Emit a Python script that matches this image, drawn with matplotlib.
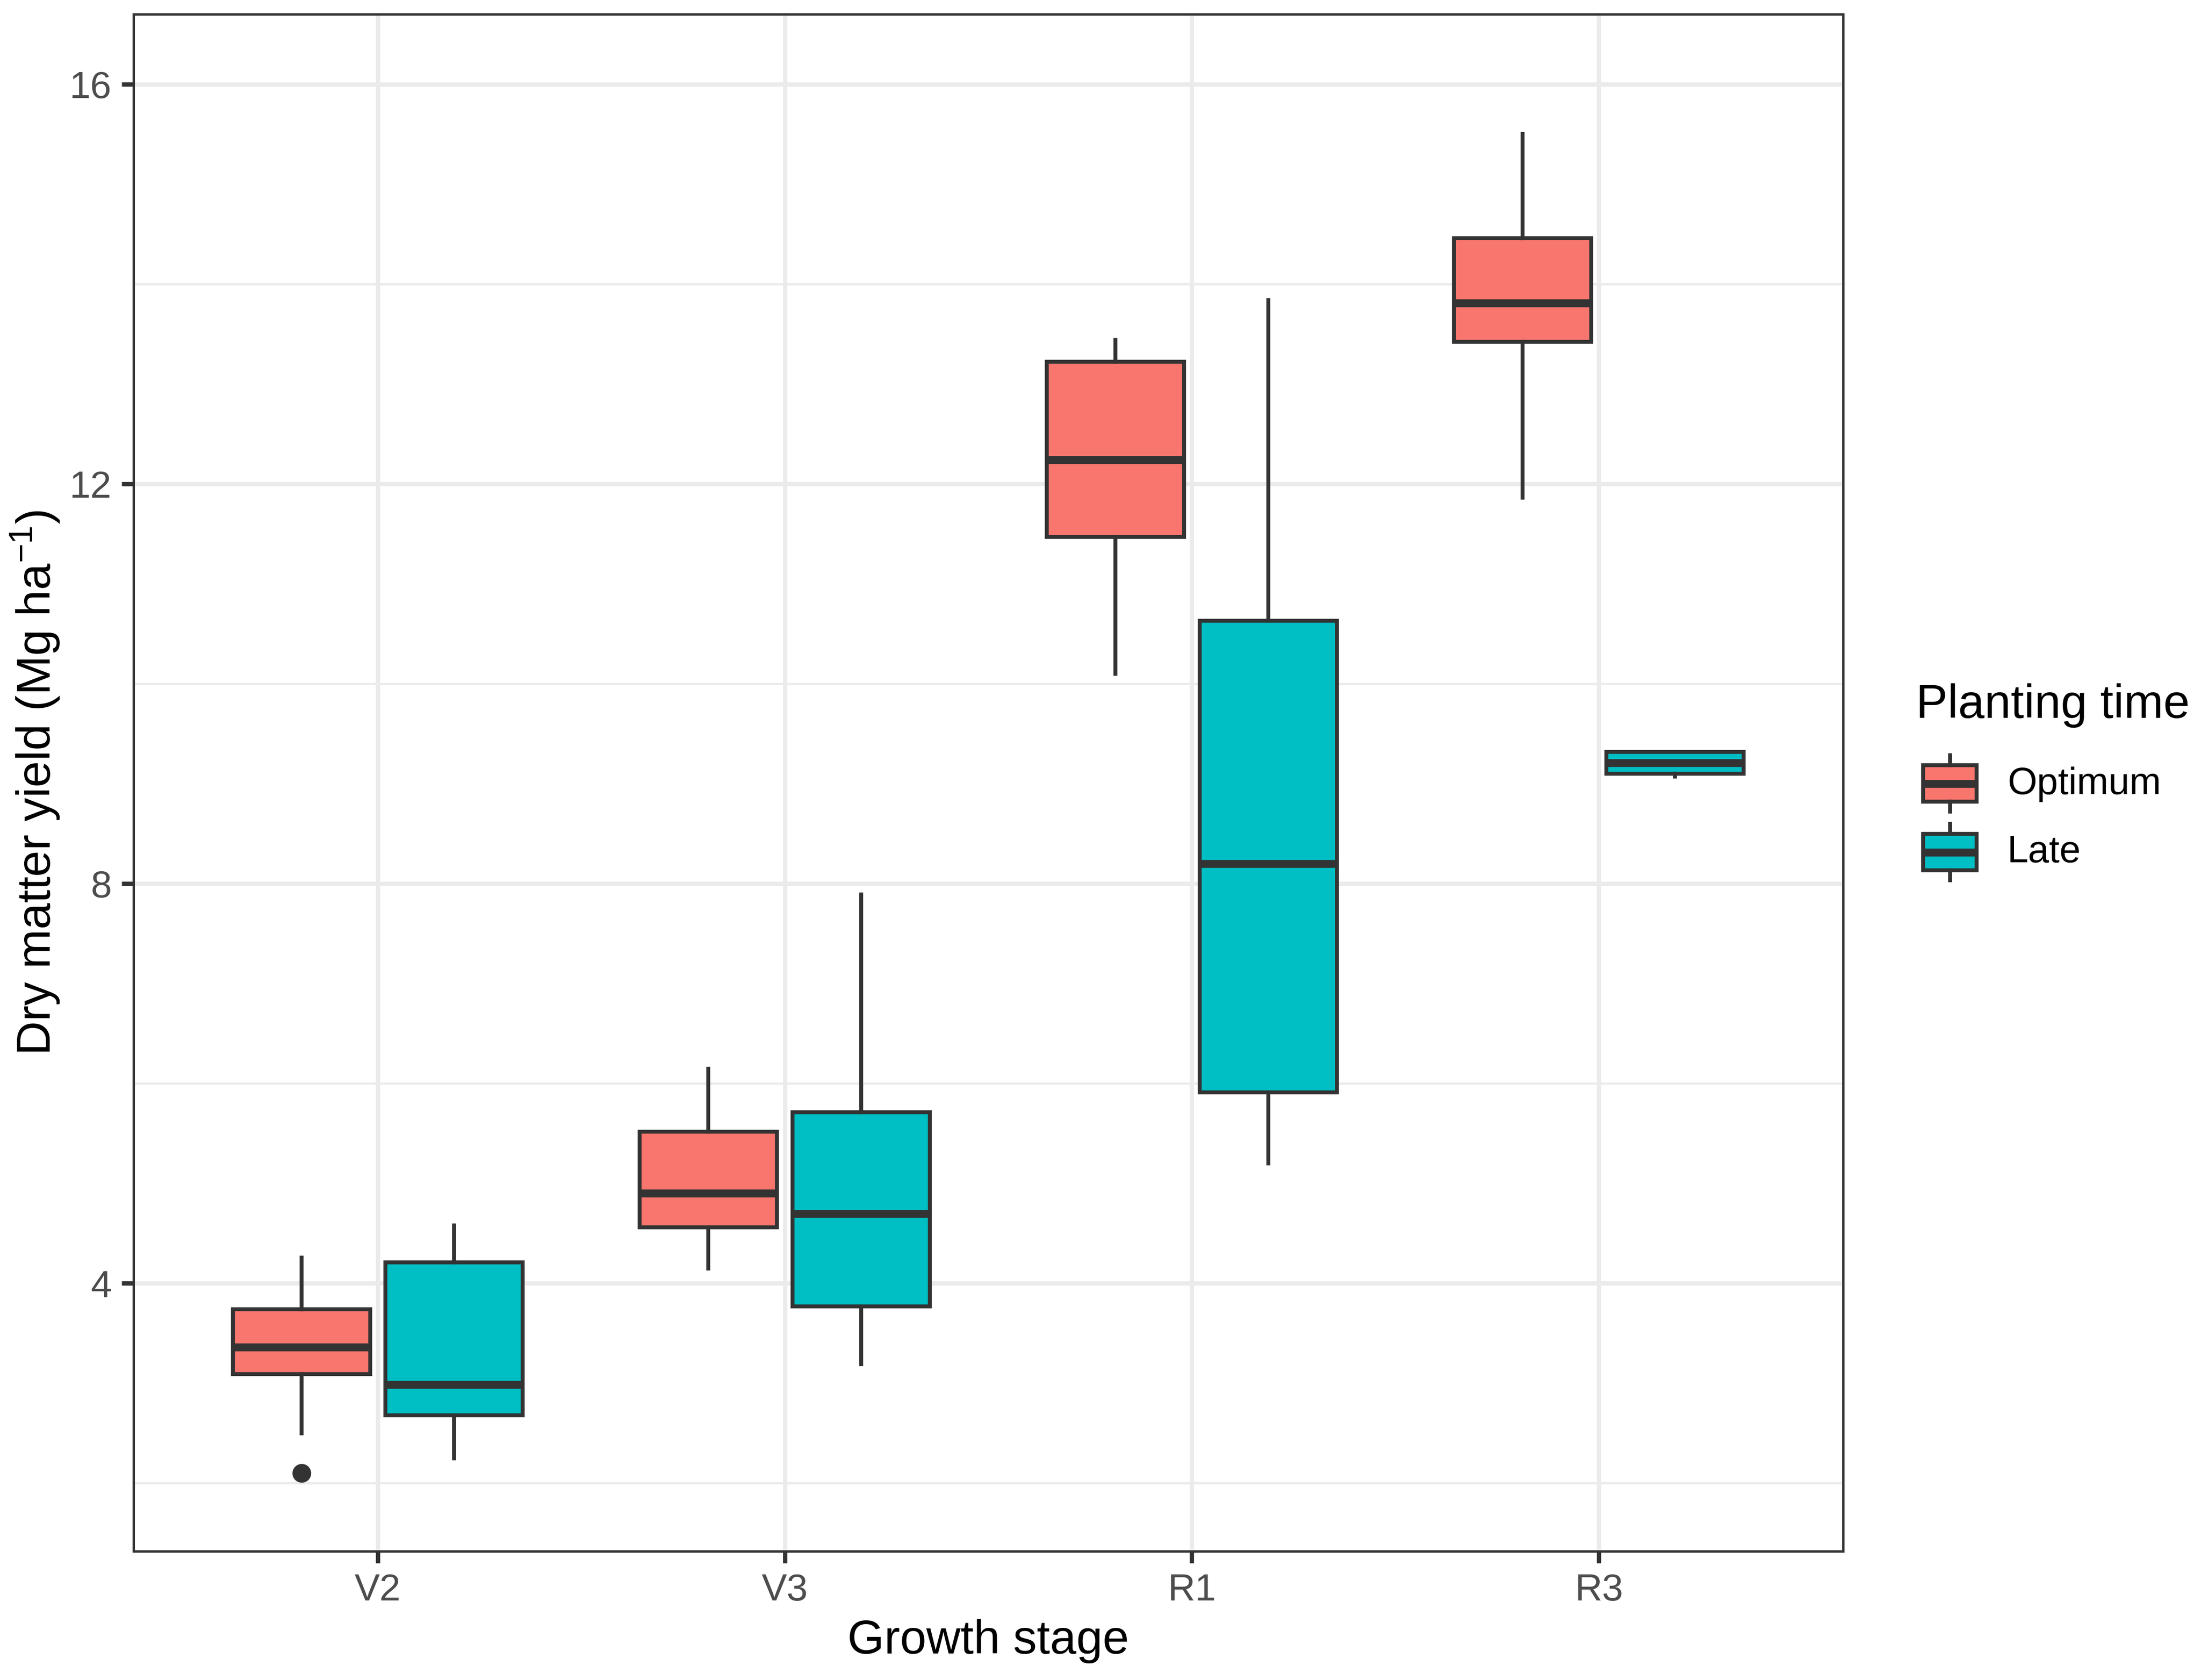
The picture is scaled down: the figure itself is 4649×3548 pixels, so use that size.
import matplotlib
matplotlib.use("Agg")
import matplotlib.pyplot as plt
from matplotlib.patches import Rectangle
import numpy as np

plt.rcParams['font.family'] = ['Liberation Sans', 'DejaVu Sans']
plt.rcParams['mathtext.fontset'] = 'custom'
plt.rcParams['mathtext.rm'] = 'Liberation Sans'
plt.rcParams['mathtext.default'] = 'regular'

# data (Mg ha-1)
stages = ['V2', 'V3', 'R1', 'R3']
groups = ['Optimum', 'Late']
colors = ['#F8766D', '#00BFC4']

opt_whislo = [2.50, 4.15, 10.10, 11.86]
opt_q1 = [3.09, 4.56, 11.47, 13.42]
opt_med = [3.36, 4.90, 12.24, 13.81]
opt_q3 = [3.74, 5.52, 13.22, 14.46]
opt_whishi = [4.26, 6.15, 13.44, 15.50]
opt_fliers = [[2.10], [], [], []]

late_whislo = [2.25, 3.19, 5.20, 9.07]
late_q1 = [2.68, 3.77, 5.91, 9.10]
late_med = [2.99, 4.70, 8.20, 9.21]
late_q3 = [4.21, 5.71, 10.63, 9.32]
late_whishi = [4.58, 7.89, 13.84, 9.32]
late_fliers = [[], [], [], []]

W, H, DPI = 4649, 3548, 300
fig = plt.figure(figsize=(W / DPI, H / DPI), dpi=DPI)
ax = fig.add_axes([282 / W, 1 - 3276 / H, (3893 - 282) / W, (3276 - 30) / H])

edge = '#333333'
box_lw = 2.0


def make_stats(whislo, q1, med, q3, whishi, fliers):
    out = []
    for i in range(len(stages)):
        out.append(dict(whislo=whislo[i], q1=q1[i], med=med[i], q3=q3[i],
                        whishi=whishi[i], fliers=fliers[i]))
    return out


series = [
    make_stats(opt_whislo, opt_q1, opt_med, opt_q3, opt_whishi, opt_fliers),
    make_stats(late_whislo, late_q1, late_med, late_q3, late_whishi, late_fliers),
]
x = np.arange(1, len(stages) + 1)
offsets = [-0.1875, 0.1875]

for stats, off, col in zip(series, offsets, colors):
    ax.bxp(stats, positions=x + off, widths=0.3375, patch_artist=True,
           showcaps=False, manage_ticks=False,
           boxprops=dict(facecolor=col, edgecolor=edge, linewidth=box_lw),
           medianprops=dict(color=edge, linewidth=4.0, solid_capstyle='butt'),
           whiskerprops=dict(color=edge, linewidth=box_lw),
           flierprops=dict(marker='o', markerfacecolor=edge, markeredgecolor=edge,
                           markersize=8.5, linestyle='none'),
           zorder=3)

ax.set_xlim(0.4, 4.6)
ax.set_ylim(1.32, 16.70)
ax.set_xticks(x)
ax.set_xticklabels(stages)
ax.set_yticks([4, 8, 12, 16])
ax.set_yticks([2, 6, 10, 14], minor=True)
ax.grid(which='major', color='#EBEBEB', linewidth=2.2, zorder=0)
ax.grid(which='minor', axis='y', color='#EBEBEB', linewidth=1.1, zorder=0)
ax.set_axisbelow(True)
ax.tick_params(axis='both', which='major', length=6, width=2.2, color=edge,
               labelsize=19.2, labelcolor='#4D4D4D', pad=5)
ax.tick_params(axis='y', which='minor', length=0)
for s in ax.spines.values():
    s.set_color(edge)
    s.set_linewidth(1.2)

fig.text(2087 / W, 1 - 3466 / H, 'Growth stage', fontsize=24, ha='center', va='center')
fig.text(74 / W, 1 - 1653 / H, r'Dry matter yield (Mg ha$^{-1}$)', fontsize=24,
         rotation=90, ha='center', va='center')

# legend drawn in pixel coordinates
lg = fig.add_axes([0, 0, 1, 1])
lg.set_xlim(0, W)
lg.set_ylim(H, 0)
lg.axis('off')
lg.text(4047, 1490, 'Planting time', fontsize=24, ha='left', va='center')
key_tops = [1616, 1761]
for top, col, lab in zip(key_tops, colors, groups):
    lg.add_patch(Rectangle((4062, top), 113, 77, facecolor=col, edgecolor=edge,
                           linewidth=box_lw))
    cx = 4062 + 113 / 2
    lg.plot([cx, cx], [top - 21, top], color=edge, linewidth=box_lw)
    lg.plot([cx, cx], [top + 77, top + 98], color=edge, linewidth=box_lw)
    lg.plot([4062, 4175], [top + 38.5, top + 38.5], color=edge, linewidth=4.0,
            solid_capstyle='butt')
    lg.text(4240, top + 40, lab, fontsize=19.2, ha='left', va='center')

fig.savefig('out.png', dpi=DPI)
